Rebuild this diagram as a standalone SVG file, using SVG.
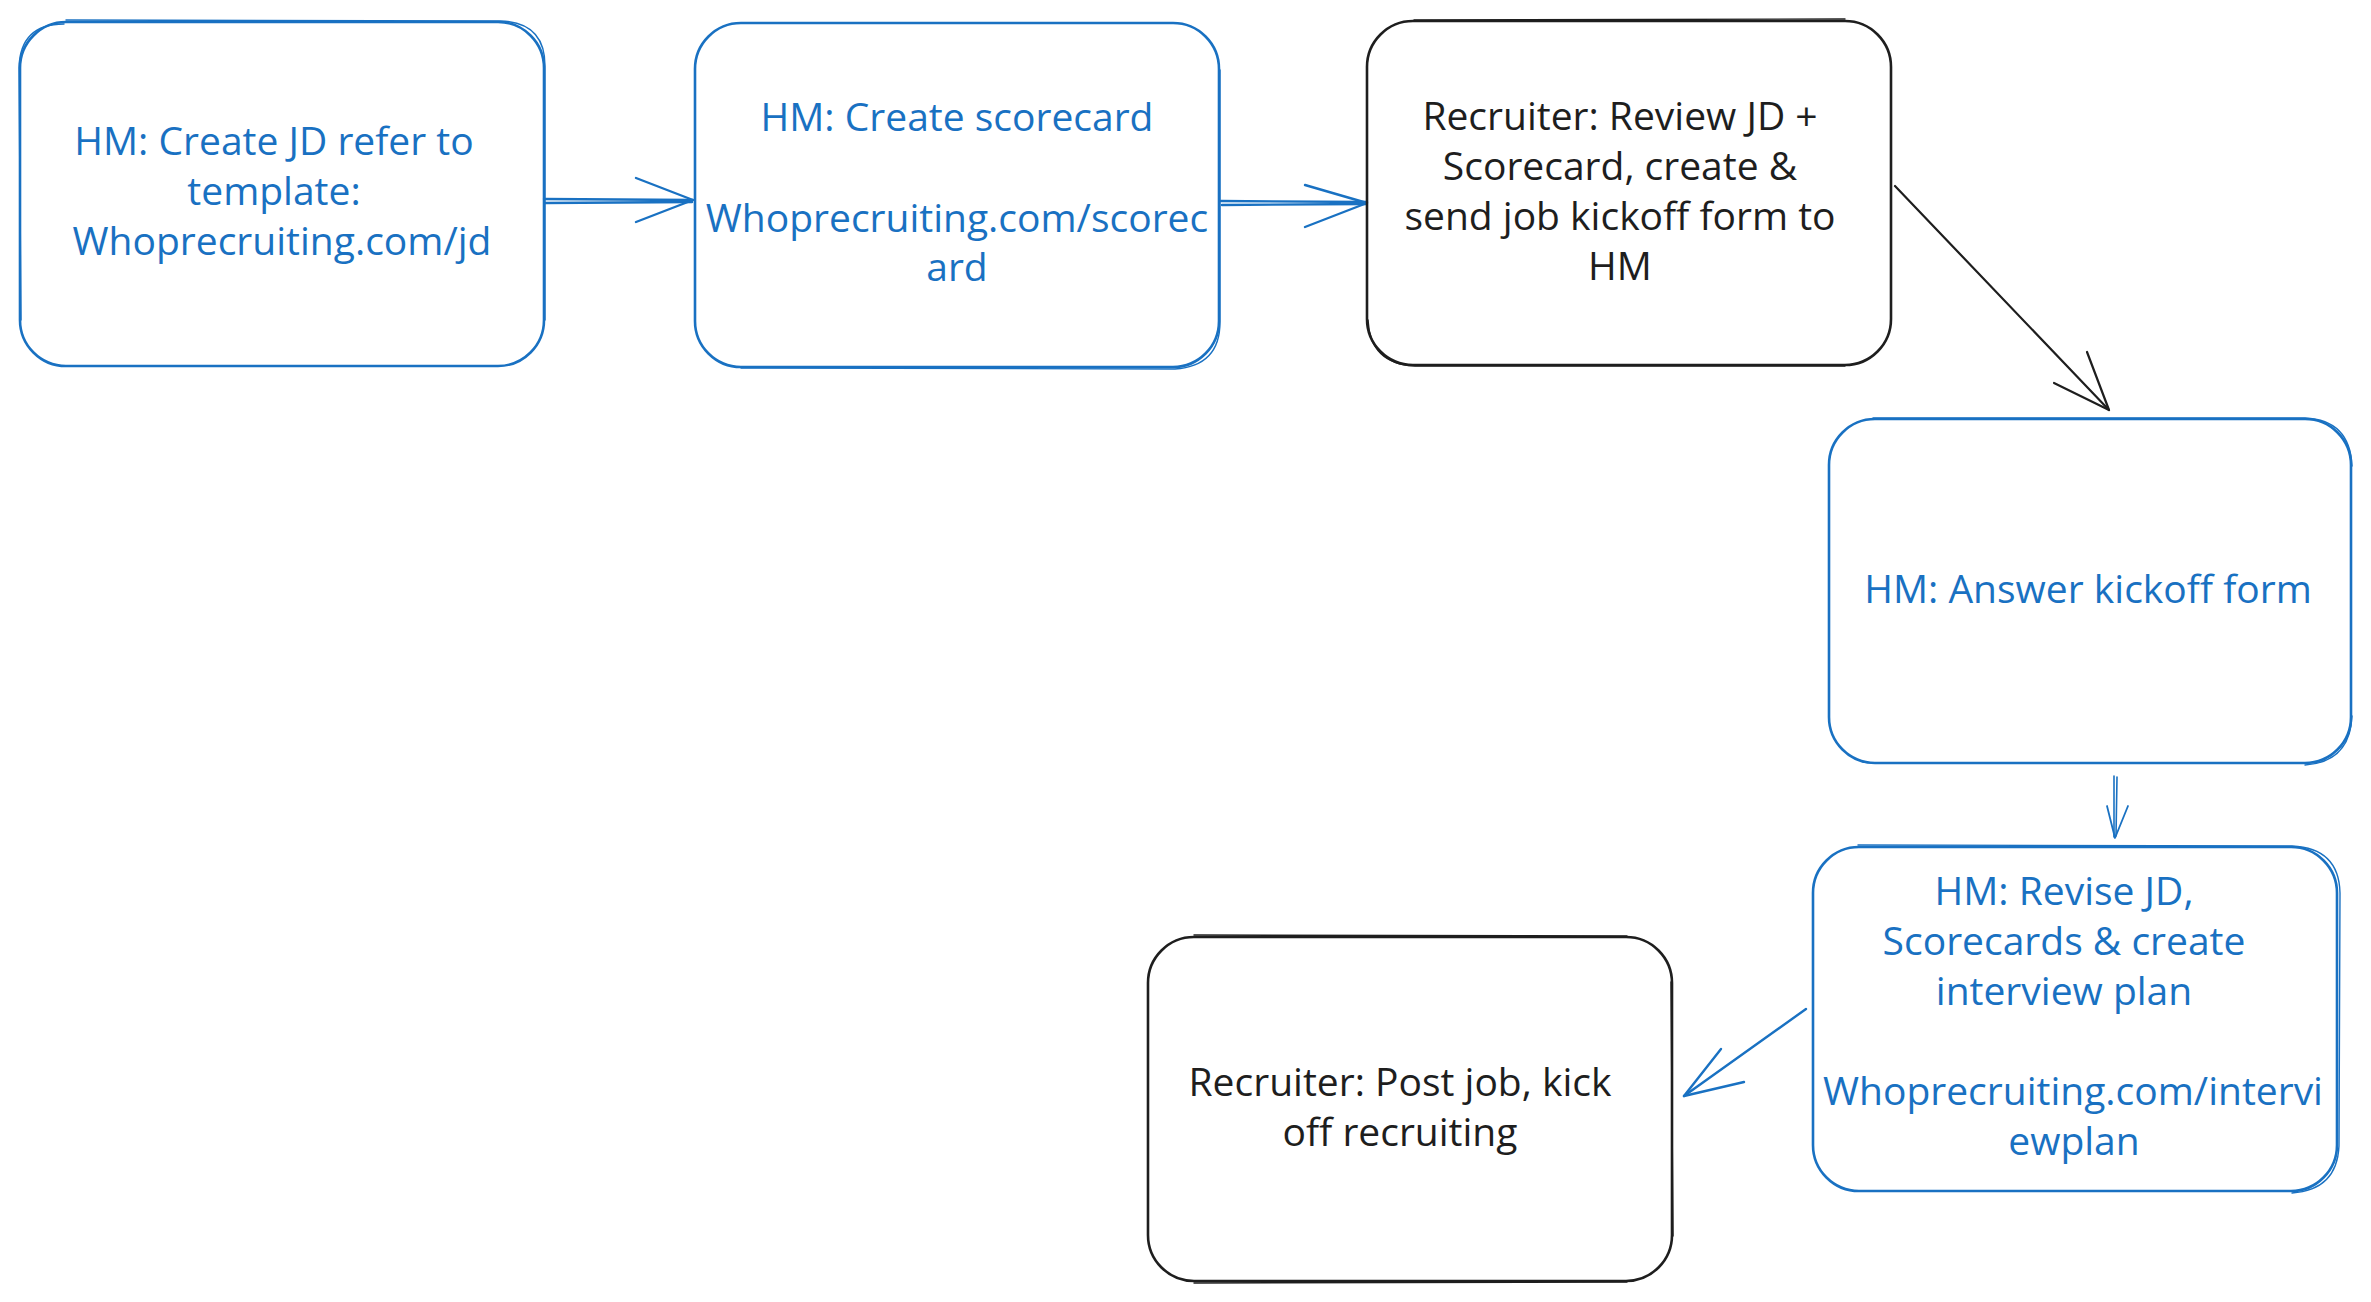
<svg xmlns="http://www.w3.org/2000/svg" width="2371" height="1302" viewBox="0 0 2371 1302">
  <style>
    .bg { fill: #ffffff; }
    .box-blue { fill: none; stroke: #1971c2; stroke-width: 2.6; stroke-linecap: round; stroke-linejoin: round; }
    .box-black { fill: none; stroke: #1e1e1e; stroke-width: 2.6; stroke-linecap: round; stroke-linejoin: round; }
    .sk-blue { fill: none; stroke: #1971c2; stroke-width: 1.4; stroke-linecap: round; }
    .sk-black { fill: none; stroke: #1e1e1e; stroke-width: 1.4; stroke-linecap: round; }
    .ar-blue { fill: none; stroke: #1971c2; stroke-width: 2.4; stroke-linecap: round; stroke-linejoin: round; }
    .ar-black { fill: none; stroke: #1e1e1e; stroke-width: 2.2; stroke-linecap: round; stroke-linejoin: round; }
    .t { font-family: "Open Sans", "Liberation Sans", sans-serif; font-size: 39px; text-anchor: middle; }
    .tb { fill: #1971c2; }
    .tk { fill: #1e1e1e; }
  </style>
  <rect class="bg" x="0" y="0" width="2371" height="1302"/>

  <g id="connectors">
    <g id="e1">
      <path class="ar-blue" d="M544 199 L693 200 M545 203 L692 202"/>
      <path class="ar-blue" d="M636 178 L693 200 L636 222"/>
    </g>
    <g id="e2">
      <path class="ar-blue" d="M1221 201 L1367 202 M1222 205 L1366 204"/>
      <path class="ar-blue" d="M1305 185 L1367 203 L1305 227"/>
    </g>
    <g id="e3">
      <path class="ar-black" d="M1895 186 L2109 410"/>
      <path class="ar-black" d="M2054 383 L2109 410 L2087 352"/>
    </g>
    <g id="e4">
      <path class="ar-blue" d="M2114 776 L2114 837 M2117 777 L2116 836" style="stroke-width:1.6"/>
      <path class="ar-blue" d="M2107 806 L2115 838 L2128 806" style="stroke-width:1.8"/>
    </g>
    <g id="e5">
      <path class="ar-blue" d="M1806 1009 L1684 1096"/>
      <path class="ar-blue" d="M1721 1049 L1684 1096 L1744 1082"/>
    </g>
  </g>

  <g id="n1">
    <rect class="box-blue" x="20" y="22" width="524" height="344" rx="46" ry="46"/>
    <path class="sk-blue" d="M66 20 L500 21 Q545 22 545 66 L545 320 M21 320 L19 68 Q20 24 64 24"/>
    <text class="t tb" x="274" y="155">HM: Create JD refer to</text>
    <text class="t tb" x="274" y="205">template:</text>
    <text class="t tb" x="282" y="255">Whoprecruiting.com/jd</text>
  </g>

  <g id="n2">
    <rect class="box-blue" x="695" y="23" width="524" height="344" rx="46" ry="46"/>
    <path class="sk-blue" d="M741 368 L1175 369 Q1220 366 1220 322 L1220 70"/>
    <text class="t tb" x="957" y="131">HM: Create scorecard</text>
    <text class="t tb" x="957" y="232">Whoprecruiting.com/scorec</text>
    <text class="t tb" x="957" y="281">ard</text>
  </g>

  <g id="n3">
    <rect class="box-black" x="1367" y="21" width="524" height="344" rx="46" ry="46"/>
    <path class="sk-black" d="M1368 320 Q1370 364 1415 366 L1845 366 M1414 20 L1845 19"/>
    <text class="t tk" x="1620" y="130">Recruiter: Review JD +</text>
    <text class="t tk" x="1620" y="180">Scorecard, create &amp;</text>
    <text class="t tk" x="1620" y="230">send job kickoff form to</text>
    <text class="t tk" x="1620" y="280">HM</text>
  </g>

  <g id="n4">
    <rect class="box-blue" x="1829" y="419" width="522" height="344" rx="46" ry="46"/>
    <path class="sk-blue" d="M1873 418 L2305 418 Q2350 420 2352 466 M2352 716 Q2350 762 2305 765"/>
    <text class="t tb" x="2088" y="603">HM: Answer kickoff form</text>
  </g>

  <g id="n5">
    <rect class="box-blue" x="1813" y="847" width="524" height="344" rx="46" ry="46"/>
    <path class="sk-blue" d="M1858 845 L2292 846 Q2339 848 2340 893 L2339 1146 Q2337 1190 2292 1193"/>
    <text class="t tb" x="2064" y="905">HM: Revise JD,</text>
    <text class="t tb" x="2064" y="955">Scorecards &amp; create</text>
    <text class="t tb" x="2064" y="1005">interview plan</text>
    <text class="t tb" x="2073" y="1105">Whoprecruiting.com/intervi</text>
    <text class="t tb" x="2074" y="1155">ewplan</text>
  </g>

  <g id="n6">
    <rect class="box-black" x="1148" y="937" width="524" height="344" rx="46" ry="46"/>
    <path class="sk-black" d="M1194 935 L1627 936 M1194 1283 L1627 1282 M1671 982 L1673 1236"/>
    <text class="t tk" x="1400" y="1096">Recruiter: Post job, kick</text>
    <text class="t tk" x="1400" y="1146">off recruiting</text>
  </g>
</svg>
